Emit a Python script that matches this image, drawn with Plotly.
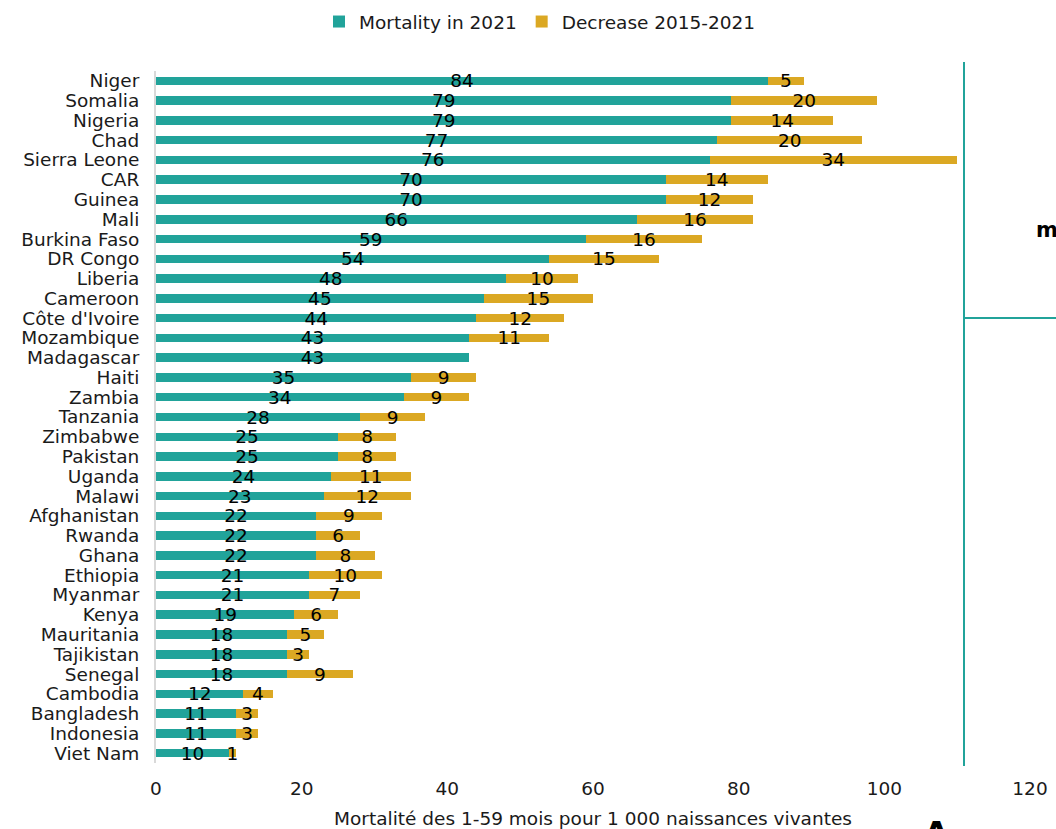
import plotly.graph_objects as go

countries = ["Niger", "Somalia", "Nigeria", "Chad", "Sierra Leone", "CAR", "Guinea", "Mali",
             "Burkina Faso", "DR Congo", "Liberia", "Cameroon", "Côte d'Ivoire", "Mozambique",
             "Madagascar", "Haiti", "Zambia", "Tanzania", "Zimbabwe", "Pakistan", "Uganda",
             "Malawi", "Afghanistan", "Rwanda", "Ghana", "Ethiopia", "Myanmar", "Kenya",
             "Mauritania", "Tajikistan", "Senegal", "Cambodia", "Bangladesh", "Indonesia",
             "Viet Nam"]
mortality_2021 = [84, 79, 79, 77, 76, 70, 70, 66, 59, 54, 48, 45, 44, 43, 43, 35, 34, 28, 25,
                  25, 24, 23, 22, 22, 22, 21, 21, 19, 18, 18, 18, 12, 11, 11, 10]
decrease_2015_2021 = [5, 20, 14, 20, 34, 14, 12, 16, 16, 15, 10, 15, 12, 11, None, 9, 9, 9, 8,
                      8, 11, 12, 9, 6, 8, 10, 7, 6, 5, 3, 9, 4, 3, 3, 1]
x_ticks = [0, 20, 40, 60, 80, 100, 120]

TEAL = "#21a39a"
GOLD = "#dba823"
FONT = "DejaVu Sans"
FS = 18.5

W, H = 1056, 829
ML, MR, MT, MB = 156, 26, 71, 66
pw, ph = W - ML - MR, H - MT - MB


def px_x(px):
    return (px - ML) / pw


def px_y(py):
    return (H - MB - py) / ph


fig = go.Figure()
fig.add_trace(go.Bar(
    y=countries, x=mortality_2021, orientation="h", name="Mortality in 2021",
    marker=dict(color=TEAL, line=dict(width=0)),
    text=[str(v) for v in mortality_2021], textposition="inside",
    insidetextanchor="middle", textangle=0,
    textfont=dict(family=FONT, size=FS, color="#000000"),
))
fig.add_trace(go.Bar(
    y=countries, x=[v if v is not None else 0 for v in decrease_2015_2021],
    orientation="h", name="Decrease 2015-2021",
    marker=dict(color=GOLD, line=dict(width=0)),
    text=[str(v) if v is not None else "" for v in decrease_2015_2021],
    textposition="inside", insidetextanchor="middle", textangle=0,
    textfont=dict(family=FONT, size=FS, color="#000000"),
))

# Panel border lines to the right of the chart
fig.add_shape(type="line", xref="paper", yref="paper",
              x0=px_x(964), x1=px_x(964), y0=px_y(62), y1=px_y(766),
              line=dict(color=TEAL, width=2))
fig.add_shape(type="line", xref="paper", yref="paper",
              x0=px_x(964), x1=px_x(1060), y0=px_y(318), y1=px_y(318),
              line=dict(color=TEAL, width=2))
fig.add_annotation(xref="paper", yref="paper", x=px_x(1034), y=px_y(230),
                   xanchor="left", yanchor="middle", text="<b>m</b>", showarrow=False,
                   font=dict(family=FONT, size=21, color="#000000"))
fig.add_annotation(xref="paper", yref="paper", x=px_x(922), y=px_y(812),
                   xanchor="left", yanchor="top", text="<b>A</b>", showarrow=False,
                   font=dict(family=FONT, size=32, color="#000000"))

fig.update_layout(
    width=W, height=H,
    margin=dict(l=ML, r=MR, t=MT, b=MB, pad=0, autoexpand=False),
    barmode="stack", bargap=0.57,
    plot_bgcolor="white", paper_bgcolor="white",
    font=dict(family=FONT, size=FS, color="#000000"),
    uniformtext=dict(minsize=FS, mode="show"),
    legend=dict(orientation="h", x=px_x(540), y=px_y(22), xanchor="center",
                yanchor="middle", font=dict(family=FONT, size=FS, color="#1a1a1a"),
                itemwidth=30, traceorder="normal"),
    xaxis=dict(range=[0, 120], tickvals=x_ticks, showgrid=False, zeroline=False,
               showline=False, ticks="", ticklabelstandoff=12,
               tickfont=dict(family=FONT, size=FS, color="#1a1a1a"),
               title=dict(text="Mortalité des 1-59 mois pour 1 000 naissances vivantes",
                          font=dict(family=FONT, size=FS, color="#1a1a1a"), standoff=15)),
    yaxis=dict(categoryorder="array", categoryarray=countries, autorange="reversed",
               tickmode="linear", dtick=1,
               showgrid=False, zeroline=False, showline=True, linecolor="#d9d9d9",
               linewidth=2, ticks="", ticklabelstandoff=11,
               tickfont=dict(family=FONT, size=FS, color="#1a1a1a")),
)

fig.write_html("out.html")
